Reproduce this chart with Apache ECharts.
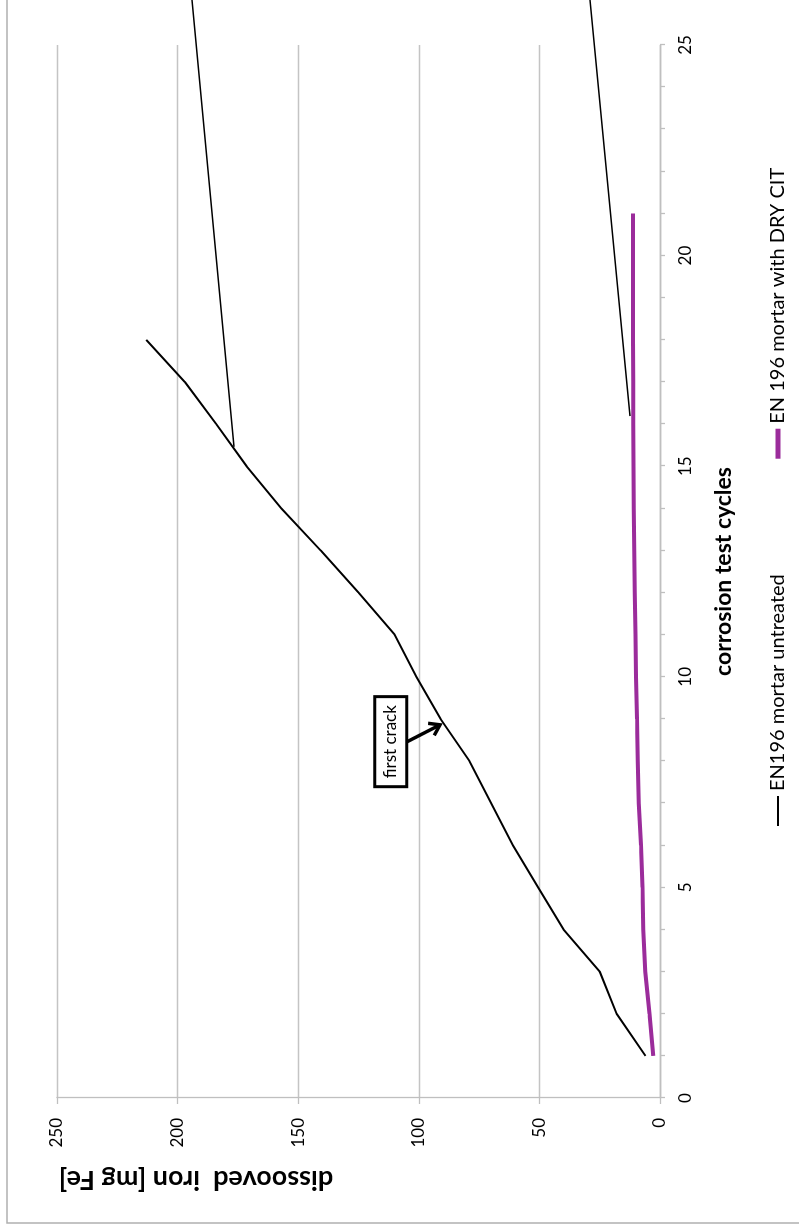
<!DOCTYPE html>
<html>
<head>
<meta charset="utf-8">
<script src="https://cdn.jsdelivr.net/npm/echarts@6/dist/echarts.min.js"></script>
<style>
html,body{margin:0;padding:0;overflow:hidden;background:#fff;width:799px;height:1232px;}
#chart{position:absolute;left:0;top:0;width:1232px;height:799px;transform-origin:0 0;transform:translateY(1232px) rotate(-90deg);}
</style>
</head>
<body>
<div id="chart"></div>
<script>
// ---- data ----
const cyclesUntreated = [1,2,3,4,5,6,7,8,9,10,11,12,13,14,15,16,17,18];
const ironUntreated   = [6,18,25,40,50.5,61,70,79,91,101,110,125,140.7,157,171.4,184,197,213];
const cyclesDryCit    = [1,2,3,4,5,6,7,8,9,10,11,12,13,14,15,16,17,18,19,20,21];
const ironDryCit      = [2.8,4.4,6.1,6.9,7.3,7.9,8.8,9.2,9.5,9.9,10.2,10.5,10.7,10.9,11.0,11.1,11.1,11.2,11.2,11.2,11.2];
const xTicks = [0,5,10,15,20,25];
const yTicks = [0,50,100,150,200,250];
const seriesNames = ['EN196 mortar untreated','EN 196 mortar with DRY CIT'];
const xTitle = 'corrosion test cycles';
const yTitle = 'dissooved  iron [mg Fe]';
const noteText = 'first crack';

const FONT = 'Lato';
const AX = '#bfbfbf';
const PURPLE = '#9b2c9b';

const chart = echarts.init(document.getElementById('chart'), null, {renderer:'canvas'});
const option = {
  backgroundColor:'#ffffff',
  animation:false,
  grid:{left:134,right:45,top:57,bottom:139},
  xAxis:{
    type:'value', min:xTicks[0], max:xTicks[xTicks.length-1], interval:xTicks[1]-xTicks[0],
    axisLine:{show:true,onZero:false,lineStyle:{color:AX,width:1.3}},
    axisTick:{show:true,inside:false,length:5,lineStyle:{color:AX,width:1.3}},
    minorTick:{show:true,splitNumber:5,length:5,lineStyle:{color:AX,width:1.3}},
    splitLine:{show:false},
    axisLabel:{margin:17,fontFamily:FONT,fontSize:17,color:'#000'},
    name:xTitle, nameLocation:'middle', nameGap:52,
    nameTextStyle:{fontFamily:FONT,fontSize:23,fontWeight:'bold',color:'#000'}
  },
  yAxis:{
    type:'value', min:yTicks[0], max:yTicks[yTicks.length-1], interval:yTicks[1]-yTicks[0],
    axisLine:{show:true,lineStyle:{color:AX,width:1.3}},
    axisTick:{show:true,inside:false,length:6,lineStyle:{color:AX,width:1.3}},
    splitLine:{show:true,lineStyle:{color:'#c4c4c4',width:1.3}},
    axisLabel:{margin:20,fontFamily:FONT,fontSize:17,color:'#000'}
  },
  legend:{
    left:400, top:763, itemWidth:30, itemHeight:14, itemGap:113,
    itemStyle:{opacity:0},
    textStyle:{fontFamily:FONT,fontSize:20,color:'#000'},
    data:[
      {name:seriesNames[0],lineStyle:{width:2,color:'#000'}},
      {name:seriesNames[1],lineStyle:{width:5,color:PURPLE}}
    ]
  },
  series:[
    {name:seriesNames[0],type:'line',symbol:'none',
     data:cyclesUntreated.map((c,i)=>[c,ironUntreated[i]]),
     lineStyle:{color:'#000',width:2},itemStyle:{color:'#000'}},
    {name:seriesNames[1],type:'line',symbol:'none',
     data:cyclesDryCit.map((c,i)=>[c,ironDryCit[i]]),
     lineStyle:{color:PURPLE,width:4},itemStyle:{color:PURPLE}}
  ]
};
chart.setOption(option);

// ---- annotations ----
const P = (d)=>chart.convertToPixel({gridIndex:0}, d);
const boxC = P([8.46,111.6]);
const arrS = P([8.46,104.8]);
const arrE = P([8.86,91.2]);
const dx = arrE[0]-arrS[0], dy = arrE[1]-arrS[1];
const L = Math.hypot(dx,dy), ux = dx/L, uy = dy/L;
const hl = 12, ang = 0.6;
const w1 = [arrE[0]-hl*(ux*Math.cos(ang)-uy*Math.sin(ang)), arrE[1]-hl*(uy*Math.cos(ang)+ux*Math.sin(ang))];
const w2 = [arrE[0]-hl*(ux*Math.cos(ang)+uy*Math.sin(ang)), arrE[1]-hl*(uy*Math.cos(ang)-ux*Math.sin(ang))];
const lead1 = P([15.46,176.6]);
const lead2 = P([16.19,12.4]);

chart.setOption({graphic:[
  {type:'rect',silent:true,z:-10,shape:{x:9,y:7,width:1400,height:1000},
   style:{fill:'none',stroke:'#b0b0b0',lineWidth:1.5}},
  {type:'text',x:52,y:196,rotation:Math.PI/2,
   style:{text:yTitle,font:'bold 27px Lato',fill:'#000',align:'center',verticalAlign:'middle'}},
  {type:'text',x:boxC[0],y:boxC[1],z:50,
   style:{text:noteText,font:'17px Lato',fill:'#000',align:'center',verticalAlign:'middle',
          backgroundColor:'#fff',borderColor:'#000',borderWidth:3,padding:[6,7,6,7]}},
  {type:'line',z:50,shape:{x1:arrS[0],y1:arrS[1],x2:arrE[0],y2:arrE[1]},style:{stroke:'#000',lineWidth:3.5}},
  {type:'polyline',z:50,shape:{points:[w1,arrE,w2]},style:{stroke:'#000',lineWidth:3.5,fill:'none',lineJoin:'miter'}},
  {type:'line',z:40,shape:{x1:lead1[0],y1:lead1[1],x2:1232,y2:192},style:{stroke:'#000',lineWidth:1.5}},
  {type:'line',z:40,shape:{x1:lead2[0],y1:lead2[1],x2:1232,y2:590},style:{stroke:'#000',lineWidth:1.5}}
]});
</script>
</body>
</html>
